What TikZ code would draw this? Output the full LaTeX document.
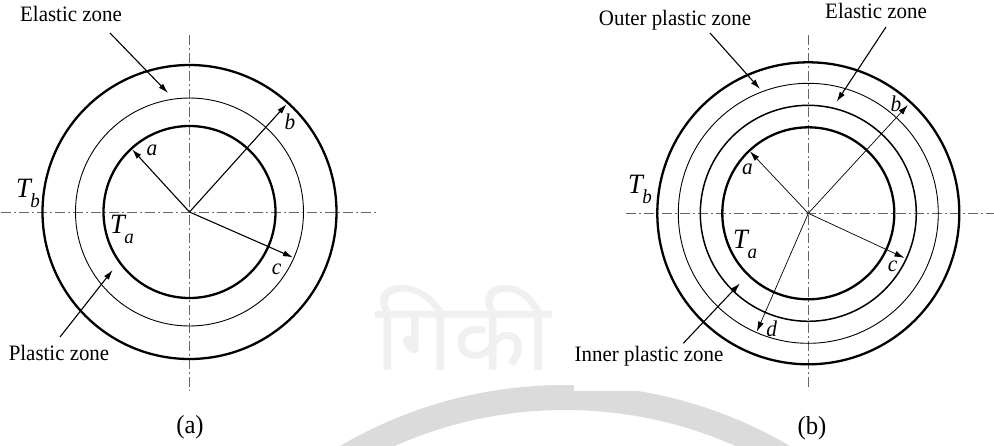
\documentclass[tikz,border=0pt]{standalone}
\usepackage{fontspec}
\setmainfont[FakeStretch=0.95]{Liberation Serif}
\newfontfamily\devfont[Script=Devanagari]{Noto Sans}
\usetikzlibrary{arrows.meta,calc}
\newcommand{\Tsub}[1]{T\kern-0.5pt\raisebox{-10pt}{\fontsize{20}{20}\selectfont #1}}
\tikzset{
 thickc/.style={line width=2.3pt},
 midc/.style={line width=1.5pt},
 thinc/.style={line width=0.9pt},
 axisline/.style={draw=black!60, line width=0.9pt, dash pattern=on 10pt off 3pt on 2pt off 3pt},
 ptr/.style={-{Latex[length=10pt,width=6pt]}, line width=1.1pt},
 rad/.style={-{Latex[length=10pt,width=6pt]}, line width=1.1pt},
 radthin/.style={-{Latex[length=10pt,width=6pt]}, line width=0.7pt},
 lbl/.style={font=\fontsize{22}{24}\selectfont, inner sep=0pt, anchor=base},
 var/.style={font=\fontsize{22.5}{24}\selectfont\itshape, inner sep=0pt},
 temp/.style={font=\fontsize{28}{30}\selectfont\itshape, inner sep=0pt, anchor=base west},
 capt/.style={font=\fontsize{26}{28}\selectfont, inner sep=0pt},
 wmark/.style={font=\fontsize{95}{100}\devfont, text=gray!12, inner sep=0pt, anchor=base},
}
\begin{document}
\begin{tikzpicture}[x=1pt,y=-1pt]
\useasboundingbox (0,0) rectangle (994,445);
\fill[white] (0,0) rectangle (994,445);
% faint watermark
\begin{scope}
\clip (0,0) rectangle (994,445);
\fill[gray!28, even odd rule] (565,830) circle[radius=445pt] (565,830) circle[radius=420pt];
\end{scope}
\fill[white] (574,0) rectangle (994,391);
\node[wmark] (wm) at (463,370) {गिकी};

% ===== (a) =====
\coordinate (A) at (189.5,212);
\coordinate (AhL) at (1,212);
\coordinate (AhR) at (378,212);
\coordinate (AvT) at (189.5,35);
\coordinate (AvB) at (189.5,391);
\draw[axisline] (AhL) -- (AhR);
\draw[axisline] (AvT) -- (AvB);
\draw[thickc] (A) circle[radius=147pt];
\draw[thinc] (A) circle[radius=114pt];
\draw[thickc] (A) circle[radius=86pt];
\coordinate (Aa) at ($(A)+(132.5:85pt)$);
\coordinate (Ab) at ($(A)+(48:145pt)$);
\coordinate (Ac) at ($(A)+(-23.7:113pt)$);
\draw[rad] (A) -- (Aa);
\draw[rad] (A) -- (Ab);
\draw[rad] (A) -- (Ac);
\node[var] (la) at (152,150) {a};
\node[var] (lb) at (290,121.7) {b};
\node[var] (lc) at (276.7,269) {c};
\node[temp] (Tb1) at (16,197) {\Tsub{b}};
\node[temp] (Ta1) at (110,233) {\Tsub{a}};
\node[lbl] (ez1) at (71,21.5) {Elastic zone};
\coordinate (ez1s) at (110,33);
\coordinate (ez1t) at (168,93);
\draw[ptr] (ez1s) -- (ez1t);
\node[lbl] (pz1) at (59,360) {Plastic zone};
\coordinate (pz1s) at (60,337);
\coordinate (pz1t) at (112.7,270);
\draw[ptr] (pz1s) -- (pz1t);
\node[capt] (capa) at (190,427) {(a)};

% ===== (b) =====
\coordinate (B) at (808.3,213.3);
\coordinate (BhL) at (626,213.3);
\coordinate (BhR) at (994,213.3);
\coordinate (BvT) at (808.3,35);
\coordinate (BvB) at (808.3,390);
\draw[axisline] (BhL) -- (BhR);
\draw[axisline] (BvT) -- (BvB);
\draw[thickc] (B) circle[radius=151pt];
\draw[thinc] (B) circle[radius=130pt];
\draw[midc] (B) circle[radius=108pt];
\draw[thickc] (B) circle[radius=86pt];
\coordinate (Ba) at ($(B)+(133.3:85pt)$);
\coordinate (Bb) at ($(B)+(47.4:147pt)$);
\coordinate (Bc) at ($(B)+(-24.9:106pt)$);
\coordinate (Bd) at ($(B)+(-113.5:129pt)$);
\draw[radthin] (B) -- (Ba);
\draw[radthin] (B) -- (Bb);
\draw[radthin] (B) -- (Bc);
\draw[radthin] (B) -- (Bd);
\node[var] (ra) at (747.5,169) {a};
\node[var] (rb) at (896,104) {b};
\node[var] (rc) at (892.5,266) {c};
\node[var] (rd) at (771.7,329) {d};
\node[temp] (Tb2) at (628,193) {\Tsub{b}};
\node[temp] (Ta2) at (733,248) {\Tsub{a}};
\node[lbl] (opz) at (675,25) {Outer plastic zone};
\coordinate (opzs) at (710,33);
\coordinate (opzt) at (760,89);
\draw[ptr] (opzs) -- (opzt);
\node[lbl] (ez2) at (876,18.5) {Elastic zone};
\coordinate (ez2s) at (886,27);
\coordinate (ez2t) at (836.7,101.7);
\draw[ptr] (ez2s) -- (ez2t);
\node[lbl] (ipz) at (649,361) {Inner plastic zone};
\coordinate (ipzs) at (683.3,343.3);
\coordinate (ipzt) at (740,283.3);
\draw[ptr] (ipzs) -- (ipzt);
\node[capt] (capb) at (812,428) {(b)};
\end{tikzpicture}
\end{document}
